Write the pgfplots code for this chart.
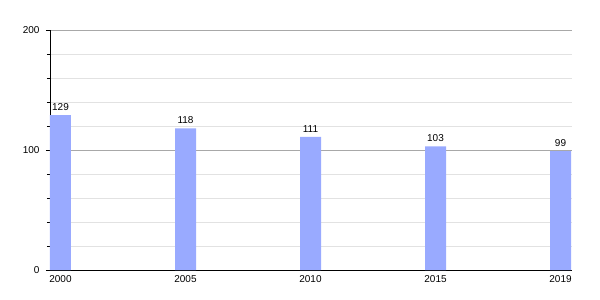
\documentclass[border=0pt]{standalone}
\usepackage{pgfplots}
\pgfplotsset{compat=1.18}
\usepackage{fontspec}
\setmainfont{Liberation Sans}
\definecolor{barblue}{HTML}{99AAFF}
\definecolor{majgrid}{HTML}{A8A8A8}
\definecolor{mingrid}{HTML}{E2E2E2}
\begin{document}
\begin{tikzpicture}[x=1pt,y=1pt]
\useasboundingbox (0,0) rectangle (600,300);
\begin{axis}[
  at={(50pt,30pt)}, anchor=south west,
  scale only axis, width=522pt, height=240pt,
  xmin=-0.084, xmax=4.092,
  ymin=0, ymax=200,
  axis x line*=bottom, axis y line*=left,
  axis line style={black, line width=0.8pt},
  xtick=data,
  xticklabels={2000,2005,2010,2015,2019},
  x tick label style={font=\fontsize{10}{12}\selectfont, yshift=2pt},
  xtick style={draw=none},
  ytick={0,100,200},
  minor ytick={20,40,60,80,120,140,160,180},
  y tick label style={font=\fontsize{10}{12}\selectfont, xshift=-3pt},
  tick align=outside,
  major tick length=4pt, minor tick length=3pt,
  ytick style={black, line width=0.6pt},
  ymajorgrids, yminorgrids,
  major grid style={majgrid, line width=0.6pt},
  minor grid style={mingrid, line width=0.6pt},
  /pgf/number format/assume math mode=true,
  ybar, bar width=21pt,
  nodes near coords,
  every node near coord/.append style={font=\fontsize{10}{12}\selectfont, black, yshift=1pt},
  clip=false,
]
\addplot[fill=barblue, draw=none] coordinates {(0,129) (1,118) (2,111) (3,103) (4,99)};
\end{axis}
\end{tikzpicture}
\end{document}
